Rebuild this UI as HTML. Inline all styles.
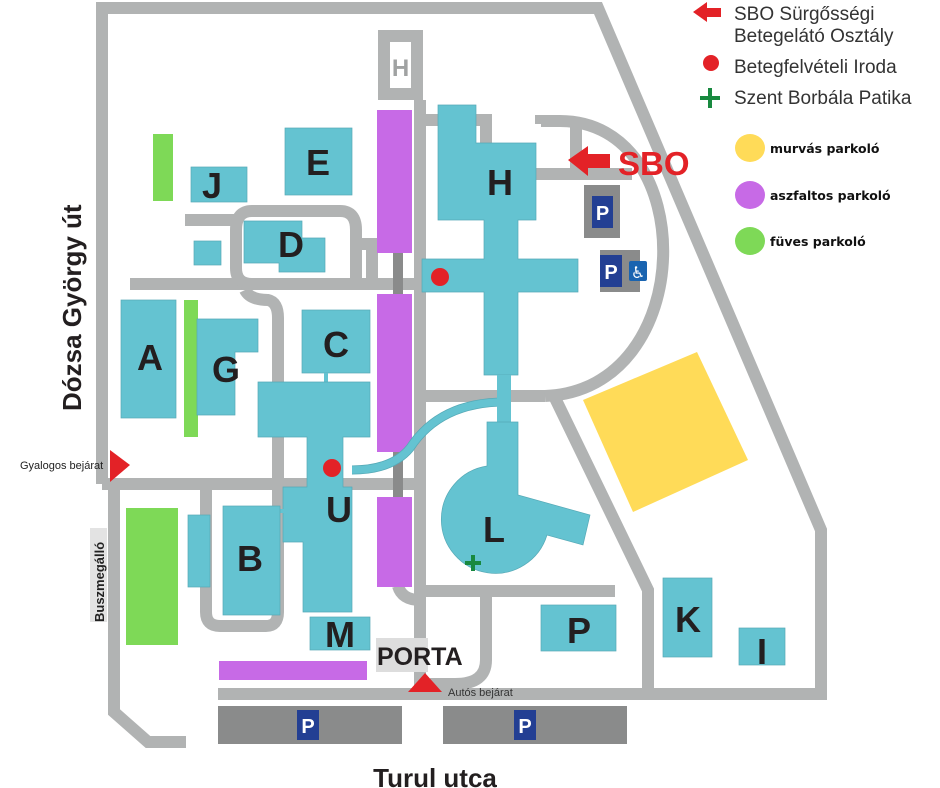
<!DOCTYPE html>
<html><head><meta charset="utf-8"><style>
html,body{margin:0;padding:0;background:#fff;width:940px;height:788px;overflow:hidden}
svg{display:block}
.b{fill:#64c3d1;stroke:#56a9b6;stroke-width:0.7}
.r{fill:none;stroke:#b1b3b3;stroke-width:12}
.lt{font-family:"Liberation Sans",sans-serif;font-weight:bold;fill:#231f20}
.leg{font-family:"Liberation Sans",sans-serif;fill:#333;font-size:19px}
.leg2{font-family:"DejaVu Sans","Liberation Sans",sans-serif;font-weight:bold;fill:#111;font-size:12.5px}
.pw{font-family:"Liberation Sans",sans-serif;font-weight:bold;fill:#fff;font-size:20px}
</style></head><body>
<svg width="940" height="788" viewBox="0 0 940 788" xmlns="http://www.w3.org/2000/svg">
<path class="r" d="M102 484 V8 H598 L821 530 V694 H218"/>
<path class="r" d="M114 484 V712 L148 742 H186"/>
<path class="r" d="M102 484 H420"/>
<path class="r" d="M130 284 H420"/>
<path class="r" d="M420 100 V694"/>
<path class="r" d="M420 120 H438"/>
<path class="r" d="M476 120 H486 V145"/>
<path class="r" d="M185 220 H240"/>
<path class="r" d="M252 211 H340 Q356 211 356 230 V284 M252 211 Q236 211 236 230 V268 Q236 284 252 284"/>
<path class="r" d="M356 244 H372 V284"/>
<path class="r" d="M245 290 Q250 300 268 300 Q278 302 278 318 V484"/>
<path class="r" d="M206 484 V612 Q206 626 220 626 H266 Q278 626 278 612 V484"/>
<path class="r" d="M420 396 H545"/>
<path class="r" d="M541 124 V121 H560 C700 121 700 390 545 396"/>
<path class="r" d="M536 174 H632"/>
<path class="r" d="M576 124 V174"/>
<path class="r" d="M555 398 L648 590 V694"/>
<path class="r" d="M420 591 H615"/>
<path class="r" d="M486 594 V660 Q486 684 455 684 H430"/>
<path class="r" d="M398 586 Q402 600 420 600"/>
<rect x="393" y="250" width="10" height="45" fill="#8a8b8b"/>
<rect x="393" y="450" width="10" height="50" fill="#8a8b8b"/>
<rect x="378" y="30" width="45" height="70" fill="#b1b3b3"/>
<rect x="390" y="42" width="21" height="46" fill="#fff"/>
<text x="400.5" y="76" text-anchor="middle" font-family="Liberation Sans,sans-serif" font-weight="bold" font-size="24" fill="#a0a2a2">H</text>
<rect x="377" y="110" width="35" height="143" fill="#c76ae6"/>
<rect x="377" y="294" width="35" height="158" fill="#c76ae6"/>
<rect x="377" y="497" width="35" height="90" fill="#c76ae6"/>
<rect x="219" y="661" width="148" height="19" fill="#c76ae6"/>
<rect x="153" y="134" width="20" height="67" fill="#7ed957"/>
<rect x="184" y="300" width="14" height="137" fill="#7ed957"/>
<rect x="126" y="508" width="52" height="137" fill="#7ed957"/>
<polygon points="583,400 697,352 748,460 633,512" fill="#ffdb58"/>
<rect class="b" x="285" y="128" width="67" height="67"/>
<rect class="b" x="191" y="167" width="56" height="35"/>
<rect class="b" x="194" y="241" width="27" height="24"/>
<polygon class="b" points="244,221 302,221 302,238 325,238 325,272 279,272 279,263 244,263"/>
<rect class="b" x="121" y="300" width="55" height="118"/>
<polygon class="b" points="197,319 258,319 258,352 235,352 235,415 197,415"/>
<rect class="b" x="302" y="310" width="68" height="63"/>
<rect x="324" y="373" width="4" height="12" fill="#64c3d1"/>
<polygon class="b" points="258,382 370,382 370,437 343,437 343,487 352,487 352,612 303,612 303,542 283,542 283,487 307,487 307,437 258,437"/>
<rect x="258" y="509" width="28" height="4" fill="#64c3d1"/>
<rect class="b" x="223" y="506" width="57" height="109"/>
<rect class="b" x="188" y="515" width="22" height="72"/>
<rect class="b" x="310" y="617" width="60" height="33"/>
<path d="M352 470 Q392 470 410 448 Q440 402 505 402" fill="none" stroke="#56a9b6" stroke-width="9"/>
<path d="M352 470 Q392 470 410 448 Q440 402 505 402" fill="none" stroke="#64c3d1" stroke-width="7.5"/>
<polygon class="b" points="438,105 476,105 476,143 536,143 536,220 518,220 518,259 578,259 578,292 518,292 518,375 484,375 484,292 422,292 422,259 484,259 484,220 438,220"/>
<rect x="497" y="375" width="14" height="48" fill="#64c3d1"/>
<path class="b" d="M487 422 H518 V495 L590 515 L583 545 L547 535 A54 54 0 1 1 487 466 Z"/>
<rect class="b" x="541" y="605" width="75" height="46"/>
<rect class="b" x="663" y="578" width="49" height="79"/>
<rect class="b" x="739" y="628" width="46" height="37"/>
<g class="lt" font-size="36" text-anchor="middle">
<text x="318" y="175">E</text><text x="212" y="198">J</text><text x="291" y="257">D</text>
<text x="150" y="370">A</text><text x="226" y="382">G</text><text x="336" y="357">C</text>
<text x="500" y="195">H</text><text x="339" y="522">U</text><text x="250" y="571">B</text>
<text x="340" y="647">M</text><text x="494" y="542">L</text><text x="579" y="643">P</text>
<text x="688" y="632">K</text><text x="762" y="664">I</text>
</g>
<circle cx="440" cy="277" r="9" fill="#e32227"/>
<circle cx="332" cy="468" r="9" fill="#e32227"/>
<path d="M465 563 H481 M473 555 V571" stroke="#18893f" stroke-width="4"/>
<rect x="584" y="185" width="36" height="53" fill="#8a8b8b"/>
<rect x="592" y="196" width="21" height="32" fill="#233f93"/><text class="pw" x="602.5" y="220" text-anchor="middle">P</text>
<rect x="600" y="250" width="40" height="42" fill="#8a8b8b"/>
<rect x="600" y="255" width="22" height="32" fill="#233f93"/><text class="pw" x="611" y="279" text-anchor="middle">P</text>
<rect x="629" y="261" width="18" height="20" rx="2" fill="#1a64b0"/><text x="638" y="278" text-anchor="middle" font-size="16" fill="#fff" font-family="DejaVu Sans,sans-serif">♿</text>
<rect x="218" y="706" width="184" height="38" fill="#8a8b8b"/>
<rect x="297" y="710" width="22" height="30" fill="#233f93"/><text class="pw" x="308" y="733" text-anchor="middle">P</text>
<rect x="443" y="706" width="184" height="38" fill="#8a8b8b"/>
<rect x="514" y="710" width="22" height="30" fill="#233f93"/><text class="pw" x="525" y="733" text-anchor="middle">P</text>
<polygon points="568,160 588,146 588,154 610,154 610,168 588,168 588,176" fill="#e32227"/>
<text x="618" y="175" font-family="Liberation Sans,sans-serif" font-weight="bold" font-size="33" fill="#e32227">SBO</text>
<polygon points="110,450 130,465 110,482" fill="#e32227"/>
<polygon points="408,692 425,673 442,692" fill="#e32227"/>
<text x="20" y="469" font-family="Liberation Sans,sans-serif" font-size="11" fill="#222">Gyalogos bejárat</text>
<text x="448" y="696" font-family="Liberation Sans,sans-serif" font-size="11" fill="#333">Autós bejárat</text>
<rect x="376" y="638" width="52" height="34" fill="#ddd"/>
<text x="377" y="665" font-family="Liberation Sans,sans-serif" font-weight="bold" font-size="25" fill="#231f20">PORTA</text>
<rect x="90" y="528" width="17" height="94" fill="#e3e3e3"/>
<text transform="translate(104,622) rotate(-90)" font-family="Liberation Sans,sans-serif" font-weight="bold" font-size="13" fill="#222">Buszmegálló</text>
<text transform="translate(81,411) rotate(-90)" font-family="Liberation Sans,sans-serif" font-weight="bold" font-size="26" fill="#231f20">Dózsa György út</text>
<text x="435" y="787" text-anchor="middle" font-family="Liberation Sans,sans-serif" font-weight="bold" font-size="26" fill="#231f20">Turul utca</text>
<polygon points="693,12 707,2 707,8 721,8 721,17 707,17 707,22" fill="#e32227"/>
<text class="leg" x="734" y="20">SBO Sürgősségi</text>
<text class="leg" x="734" y="42">Betegelátó Osztály</text>
<circle cx="711" cy="63" r="8" fill="#e32227"/>
<text class="leg" x="734" y="73">Betegfelvételi Iroda</text>
<path d="M700 98 H720 M710 88 V108" stroke="#18893f" stroke-width="4"/>
<text class="leg" x="734" y="104">Szent Borbála Patika</text>
<ellipse cx="750" cy="148" rx="15" ry="14" fill="#ffdb58"/><text class="leg2" x="770" y="153">murvás parkoló</text>
<ellipse cx="750" cy="195" rx="15" ry="14" fill="#c76ae6"/><text class="leg2" x="770" y="200">aszfaltos parkoló</text>
<ellipse cx="750" cy="241" rx="15" ry="14" fill="#7ed957"/><text class="leg2" x="770" y="246">füves parkoló</text>
</svg>
</body></html>
